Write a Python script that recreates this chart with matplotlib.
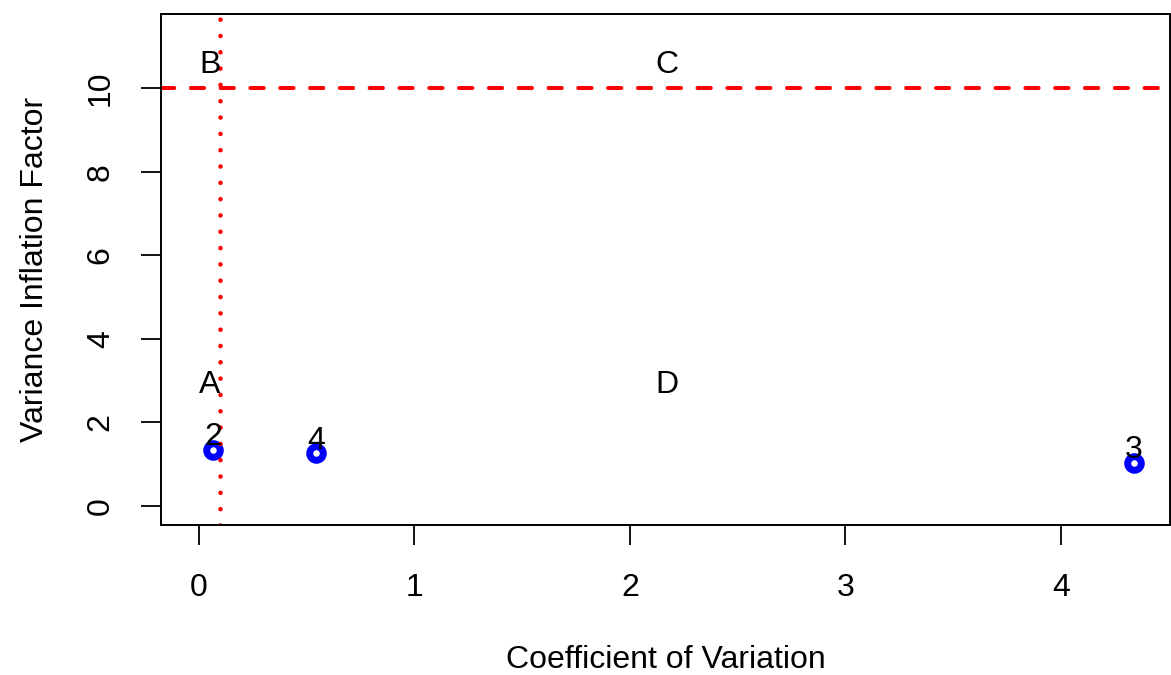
import numpy as np
import matplotlib.pyplot as plt

plt.rcParams['font.family'] = ['Liberation Sans', 'DejaVu Sans']

# data
cv = [0.065, 4.339, 0.545]
vif = [1.336, 1.03, 1.257]
ids = ['2', '3', '4']

cv_cut = 0.1
vif_cut = 10

zone_lab = ['A', 'B', 'C', 'D']
zone_x = [0.05, 0.05, 2.17, 2.17]
zone_y = [2.97, 10.65, 10.65, 2.97]

fs = 23
fig = plt.figure(figsize=(11.71, 6.75), dpi=100)
ax = fig.add_axes([161/1171, 150/675, 1009/1171, 511/675])

ax.plot(cv, vif, 'o', ls='none', mfc='none', mec='blue', ms=9.8, mew=5.0)
for x, y, s in zip(cv, vif, ids):
    ax.annotate(s, (x, y), xytext=(0, 11.5), textcoords='offset points',
                ha='center', va='center_baseline', fontsize=fs)

ax.axhline(vif_cut, color='red', lw=2.9, dashes=(3.3, 4.1), dash_capstyle='round')
ax.axvline(cv_cut, color='red', lw=3.3, dashes=(0.01, 3.55), dash_capstyle='round')

for x, y, s in zip(zone_x, zone_y, zone_lab):
    ax.text(x, y, s, ha='center', va='center_baseline', fontsize=fs)

ax.set_xlim(-0.176, 4.506)
ax.set_ylim(-0.463, 11.78)
ax.set_xticks([0, 1, 2, 3, 4])
ax.set_yticks([0, 2, 4, 6, 8, 10])
ax.tick_params(length=14.5, width=1.3, pad=20, labelsize=fs)
ax.tick_params(axis='y', pad=18)
for lab in ax.get_yticklabels():
    lab.set_rotation(90)
    lab.set_va('center')
for sp in ax.spines.values():
    sp.set_linewidth(1.4)

ax.set_xlabel('Coefficient of Variation', fontsize=fs)
ax.set_ylabel('Variance Inflation Factor', fontsize=fs)
ax.xaxis.set_label_coords(0.5, -0.264)
ax.yaxis.set_label_coords(-0.125, 0.5)
ax.xaxis.label.set_va('center')
ax.yaxis.label.set_va('center')

fig.savefig('out.png', dpi=100)
